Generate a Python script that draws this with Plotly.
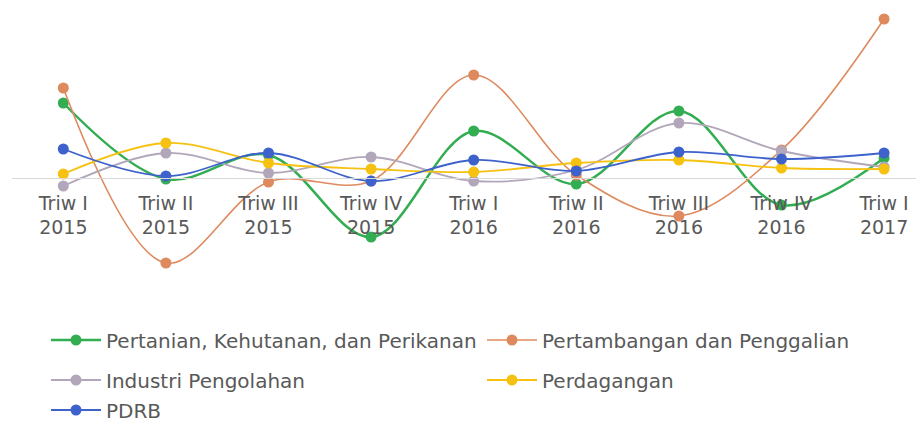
import plotly.graph_objects as go

categories = ["Triw I<br>2015", "Triw II<br>2015", "Triw III<br>2015", "Triw IV<br>2015",
              "Triw I<br>2016", "Triw II<br>2016", "Triw III<br>2016", "Triw IV<br>2016",
              "Triw I<br>2017"]

pertanian = [7.5, -0.1, 2.3, -5.9, 4.7, -0.6, 6.7, -2.7, 2.0]
pertambangan = [9.0, -8.5, -0.4, -0.3, 10.3, 0.3, -3.8, 2.8, 15.9]
industri = [-0.8, 2.5, 0.5, 2.1, -0.3, 0.8, 5.5, 2.7, 1.1]
perdagangan = [0.4, 3.5, 1.5, 0.9, 0.6, 1.5, 1.8, 1.0, 0.9]
pdrb = [2.9, 0.2, 2.5, -0.3, 1.8, 0.7, 2.6, 1.9, 2.5]

series = [
    ("Pertanian, Kehutanan, dan Perikanan", pertanian, "#33ad52", 2.5, "legend"),
    ("Pertambangan dan Penggalian", pertambangan, "#de8a5e", 1.6, "legend"),
    ("Industri Pengolahan", industri, "#b2a7ba", 1.8, "legend2"),
    ("Perdagangan", perdagangan, "#f6c111", 1.8, "legend2"),
    ("PDRB", pdrb, "#3d62cc", 1.8, "legend3"),
]

fig = go.Figure()
for name, vals, color, w, lg in series:
    fig.add_trace(go.Scatter(
        x=list(range(len(categories))), y=vals, name=name, mode="lines+markers",
        line=dict(color=color, width=w, shape="spline", smoothing=1.0),
        marker=dict(color=color, size=11),
        legend=lg, cliponaxis=False,
    ))

font_color = "#595959"
fam = "DejaVu Sans"
leg_common = dict(orientation="h", xref="container", yref="container",
                  xanchor="left", yanchor="middle", font=dict(family=fam, size=20, color=font_color),
                  bgcolor="rgba(0,0,0,0)", itemwidth=50, entrywidth=371, entrywidthmode="pixels")

W, H = 924, 424
fig.update_layout(
    width=W, height=H,
    margin=dict(l=4, r=0, t=2, b=152, autoexpand=False),
    paper_bgcolor="white", plot_bgcolor="white",
    showlegend=True,
    xaxis=dict(
        tickmode="array", tickvals=list(range(len(categories))), ticktext=categories,
        range=[-0.5, 8.467], anchor="free", position=0.3778,
        showline=True, linecolor="#d9d9d9", linewidth=1,
        showgrid=False, zeroline=False,
        ticks="outside", ticklen=8, tickcolor="rgba(0,0,0,0)",
        tickfont=dict(family=fam, size=19, color=font_color),
    ),
    yaxis=dict(range=[-10.2, 16.8], visible=False, showgrid=False, zeroline=False),
    legend=dict(x=38 / W, y=1 - 332 / H, **leg_common),
    legend2=dict(x=38 / W, y=1 - 372 / H, **leg_common),
    legend3=dict(x=38 / W, y=1 - 402 / H, **leg_common),
)

fig.write_html("out.html")
